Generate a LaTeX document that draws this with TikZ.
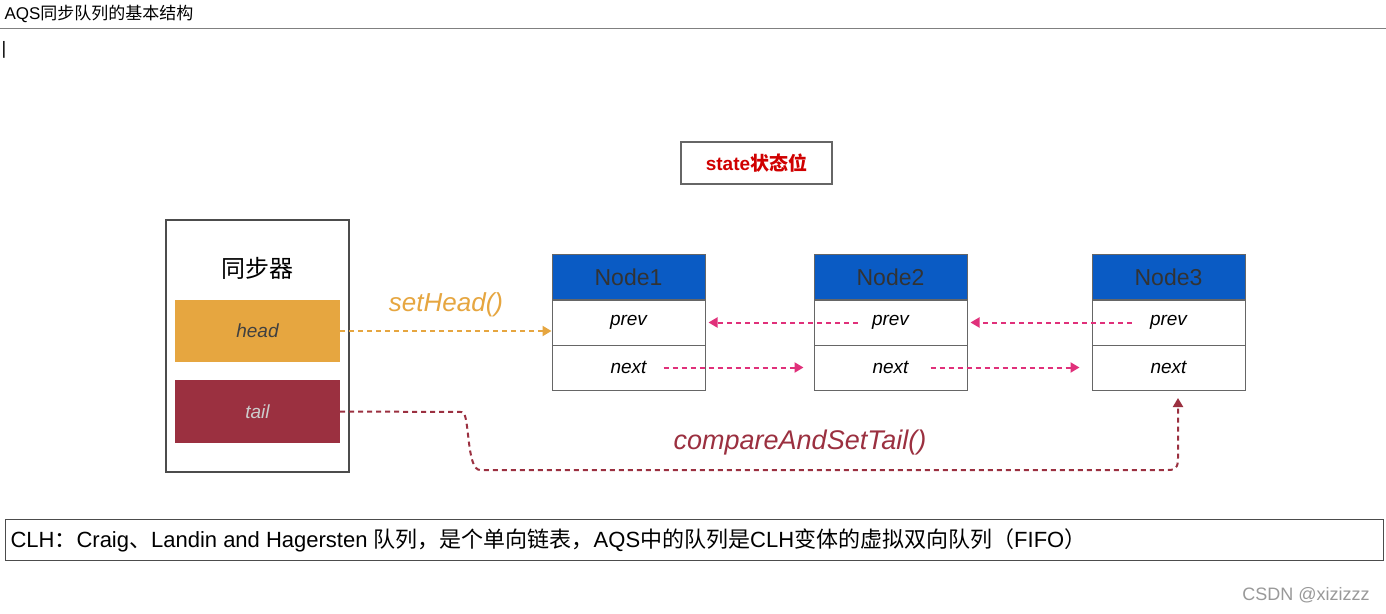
\documentclass[tikz,border=0pt]{standalone}
\usepackage{fontspec}
\setmainfont{Liberation Sans}
\newfontfamily\cjk{Noto Sans CJK SC}
\usetikzlibrary{arrows.meta}
\definecolor{hd}{HTML}{E6A640}
\definecolor{tl}{HTML}{9B3040}
\definecolor{nb}{HTML}{0A5BC4}
\definecolor{pk}{HTML}{E0307A}
\definecolor{st}{HTML}{D00000}
\begin{document}
\begin{tikzpicture}[x=1pt,y=-1pt,
  box/.style={draw=black!70,line width=1.2pt},
  row/.style={draw=black!60,line width=1pt,fill=white,minimum width=153pt,minimum height=45pt,inner sep=0pt,font=\fontsize{19}{21}\selectfont\itshape},
  hdr/.style={row,fill=nb,text=black!80,font=\fontsize{23}{25}\selectfont},
  pa/.style={pk,line width=2pt,dash pattern=on 5pt off 4pt,-{Triangle[length=9pt,width=10pt]}},
]
\useasboundingbox (0,0) rectangle (1386,613);
\fill[white] (0,0) rectangle (1386,613);
\node[anchor=west,font=\fontsize{17}{19}\selectfont] (title) at (1,14) {AQS{\cjk 同步队列的基本结构}};
\draw[black!50] (0,28) -- (1386,28);
\node[font=\fontsize{18}{18}\selectfont,inner sep=0pt] (cur) at (4,50) {|};
% state
\node[box,draw=black!60,minimum width=151pt,minimum height=42pt,font=\bfseries\fontsize{19}{21}\selectfont,text=st] (state) at (756.5,163) {state{\cjk\bfseries 状态位}};
% synchronizer
\node[box,minimum width=183pt,minimum height=252pt] (sync) at (257.5,346) {};
\node[font=\cjk\fontsize{24}{26}\selectfont] (synct) at (257,268) {同步器};
\node[fill=hd,minimum width=165pt,minimum height=62pt,font=\fontsize{19}{21}\selectfont\itshape,text=black!75] (head) at (257.5,331) {head};
\node[fill=tl,minimum width=165pt,minimum height=63pt,font=\fontsize{19}{21}\selectfont\itshape,text=white!80!black] (tail) at (257.5,411.5) {tail};
% nodes
\foreach \n/\x in {1/628.5,2/890.5,3/1168.5}{
  \node[hdr] (n\n) at (\x,277) {Node\n};
  \node[row] (p\n) at (\x,322.5) {prev};
  \node[row] (x\n) at (\x,367.5) {next};
}
\draw[hd,line width=2pt,dash pattern=on 5pt off 4pt,-{Triangle[length=9pt,width=10pt]}] (head.east) -- (head.east -| p1.west);
\node[text=hd,font=\fontsize{26}{28}\selectfont\itshape] (sh) at (446,305) {setHead()};
\draw[pa] ([xshift=-33pt]p2.center) -- ([xshift=3pt]p1.east);
\draw[pa] ([xshift=-37pt]p3.center) -- ([xshift=3pt]p2.east);
\draw[pa] ([xshift=35pt]x1.center) -- ([xshift=-10pt]x2.west);
\draw[pa] ([xshift=40pt]x2.center) -- ([xshift=-12pt]x3.west);
\coordinate (c1) at (462,412);
\coordinate (c2) at (1178,398);
\draw[tl,line width=2pt,dash pattern=on 5pt off 4pt,-{Triangle[length=9pt,width=10pt]}]
  (tail.east) -- (c1) .. controls (470,412) and (466,470) .. (480,470) -- (1168,470) .. controls (1178,470) and (1178,465) .. (1178,455) -- (c2);
\node[text=tl,font=\fontsize{27}{29}\selectfont\itshape] (cas) at (800,443) {compareAndSetTail()};
% bottom
\node[draw=black!70,line width=1pt,minimum width=1378pt,minimum height=41pt,anchor=west,inner sep=0pt] (clh) at (5,540) {};
\node[anchor=west,font=\fontsize{22}{24}\selectfont] (clht) at (7,540) {CLH{\cjk ：}Craig{\cjk 、}Landin and Hagersten {\cjk 队列，是个单向链表，}AQS{\cjk 中的队列是}CLH{\cjk 变体的虚拟双向队列（}FIFO{\cjk ）}};
\node[text=black!40,font=\fontsize{18}{20}\selectfont] (wm) at (1306,595) {CSDN @xizizzz};
\end{tikzpicture}
\end{document}
